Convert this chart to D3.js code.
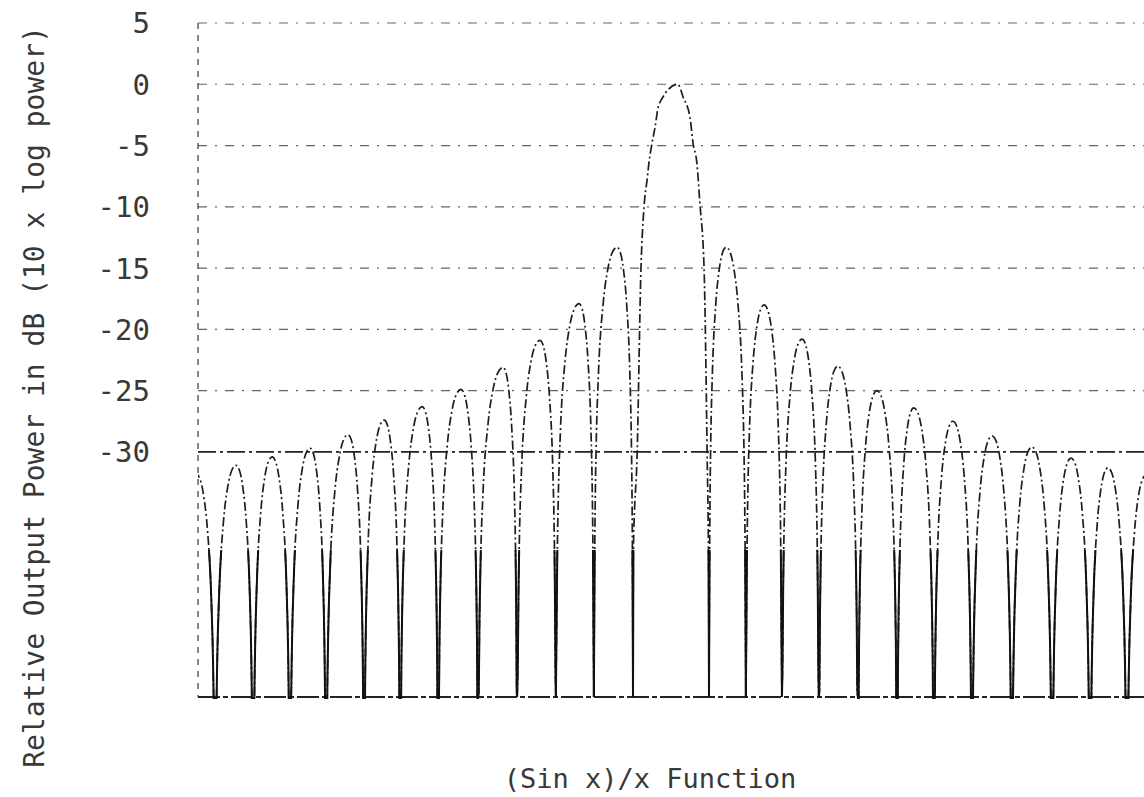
<!DOCTYPE html>
<html>
<head>
<meta charset="utf-8">
<script src="https://cdn.jsdelivr.net/npm/d3@7"></script>
<style>
  body { margin: 0; background: #fff; }
  svg { display: block; }
  text { font-family: "DejaVu Sans Mono", "Liberation Mono", monospace; fill: #383838; }
</style>
</head>
<body>
<div id="chart"></div>
<script>
// dB gridlines / tick labels
const yTicks = [5, 0, -5, -10, -15, -20, -25, -30];
const floorDb = -50;

// main lobe (x in units of the null spacing)
const mainX  = [-1.0, -0.99, -0.89, -0.79, -0.71, -0.63, -0.58, -0.5, -0.42, -0.34, -0.26, 0.18,
                0.32, 0.5, 0.58, 0.68, 0.76, 0.87, 0.95, 0.99, 1.0];
const mainDb = [-50, -38, -30, -15, -10, -7.8, -6.4, -4.8, -3.5, -1.9, -1.3, 0,
                -1.06, -2.7, -4.8, -6.4, -9.7, -15, -30, -40, -50];

// sidelobe nulls (left side then right side)
const nullX = [-13.0, -12.0, -11.0, -10.03, -9.08, -8.08, -7.13, -6.13, -5.08, -4.05, -3.03, -2.03, -1.0,
               1.0, 1.97, 2.92, 3.89, 4.92, 5.95, 6.92, 7.92, 8.97, 10.03, 11.03, 12.0, 13.0];
// sidelobe peaks
const peakX  = [-12.5, -11.45, -10.5, -9.5, -8.5, -7.55, -6.55, -5.53, -4.42, -3.45, -2.42, -1.42,
                1.45, 2.45, 3.45, 4.39, 5.42, 6.39, 7.42, 8.45, 9.5, 10.53, 11.5, 12.5];
const peakDb = [-31.8, -31.1, -30.4, -29.7, -28.6, -27.4, -26.3, -24.9, -23.1, -20.9, -17.9, -13.3,
                -13.3, -18.0, -20.8, -23.0, -25.0, -26.4, -27.5, -28.7, -29.6, -30.5, -31.3, -31.9];

// shape of one traced lobe: share of the null->peak distance, dB below the peak
const profFrac = [0, 0.03, 0.06, 0.1, 0.2, 0.4, 0.6, 0.8, 1];
const profDrop = [null, -26.5, -20.5, -16.1, -10.2, -4.6, -1.8, -0.4, 0];

const yTitle = "Relative Output Power in dB (10 x log power)";
const xTitle = "(Sin x)/x Function";

class SincChart {
  constructor(parent) {
    this.parent = parent;
    this.width = 1144;
    this.height = 797;
    this.margin = { top: 23, right: 0, bottom: 100, left: 198 };
    this.init();
  }

  get innerWidth() { return this.width - (this.margin.left + this.margin.right); }
  get innerHeight() { return this.height - (this.margin.top + this.margin.bottom); }

  lobes() {
    const out = [];
    const lobeCount = peakX.length;
    for (let i = 0; i < lobeCount; i++) {
      // left lobes sit between nullX[i], nullX[i+1]; right ones skip the main lobe gap
      const j = i < lobeCount / 2 ? i : i + 1;
      const x0 = nullX[j], x1 = nullX[j + 1];
      const xp = peakX[i], p = peakDb[i];
      const pts = [];
      profFrac.forEach((f, k) => {
        pts.push([x0 + f * (xp - x0), k === 0 ? floorDb : p + profDrop[k]]);
      });
      for (let k = profFrac.length - 2; k >= 0; k--) {
        pts.push([x1 - profFrac[k] * (x1 - xp), k === 0 ? floorDb : p + profDrop[k]]);
      }
      out.push(pts);
    }
    out.push(mainX.map((x, k) => [x, mainDb[k]]));
    return out;
  }

  init() {
    this.x = d3.scaleLinear().domain([-12.45, 12.45]).range([0, this.innerWidth]);
    this.y = d3.scaleLinear().domain([floorDb, 5]).range([this.innerHeight, 0]);

    this.svg = d3.select(this.parent).append("svg")
      .attr("width", this.width).attr("height", this.height);

    const defs = this.svg.append("defs");
    defs.append("clipPath").attr("id", "clip")
      .append("rect").attr("x", 0).attr("y", -2)
      .attr("width", this.innerWidth).attr("height", this.innerHeight + 4);
    defs.append("clipPath").attr("id", "clipLow")
      .append("rect").attr("x", 0).attr("y", this.y(-38))
      .attr("width", this.innerWidth).attr("height", this.innerHeight - this.y(-38) + 2);

    this.frame = this.svg.append("g")
      .attr("transform", "translate(" + this.margin.left + "," + this.margin.top + ")");
  }

  draw() {
    const x = this.x, y = this.y;

    // gridlines
    this.frame.append("g").attr("class", "grid")
      .selectAll("line").data(yTicks).join("line")
      .attr("x1", 0).attr("x2", this.innerWidth)
      .attr("y1", d => y(d)).attr("y2", d => y(d))
      .attr("stroke", d => d === -30 ? "#222" : "#666")
      .attr("stroke-width", d => d === -30 ? 1.7 : 1.2)
      .attr("stroke-dasharray", d => d === -30 ? "18,4,3,4" : "9,8,2,8");

    // left axis + floor line
    this.frame.append("line")
      .attr("x1", 0).attr("x2", 0).attr("y1", y(5)).attr("y2", y(floorDb))
      .attr("stroke", "#555").attr("stroke-width", 1.4).attr("stroke-dasharray", "6,6");
    this.frame.append("line")
      .attr("x1", 0).attr("x2", this.innerWidth).attr("y1", y(floorDb)).attr("y2", y(floorDb))
      .attr("stroke", "#222").attr("stroke-width", 1.8).attr("stroke-dasharray", "22,3,5,3");

    // tick labels
    this.svg.append("g").attr("class", "ticks")
      .selectAll("text").data(yTicks).join("text")
      .attr("x", 150).attr("y", d => this.margin.top + y(d))
      .attr("dy", "0.36em").attr("text-anchor", "end")
      .style("font-size", "29px")
      .text(d => d < 0 ? "-" + Math.abs(d) : d);

    // the curve
    const line = d3.line().x(d => x(d[0])).y(d => y(d[1])).curve(d3.curveMonotoneX);
    const lobes = this.lobes();
    this.frame.append("g").attr("clip-path", "url(#clip)")
      .selectAll("path").data(lobes).join("path")
      .attr("d", line).attr("fill", "none")
      .attr("stroke", "#1e1e1e").attr("stroke-width", 1.7)
      .attr("stroke-dasharray", "9,3,2,3");
    this.frame.append("g").attr("clip-path", "url(#clipLow)")
      .append("g").attr("clip-path", "url(#clip)")
      .selectAll("path").data(lobes).join("path")
      .attr("d", line).attr("fill", "none")
      .attr("stroke", "#111").attr("stroke-width", 2);

    // titles
    this.svg.append("text")
      .attr("transform", "translate(44,397) rotate(-90)")
      .attr("text-anchor", "middle").style("font-size", "28px")
      .text(yTitle);
    this.svg.append("text")
      .attr("x", 650).attr("y", 788)
      .attr("text-anchor", "middle").style("font-size", "27px")
      .text(xTitle);
  }
}

const chart = new SincChart(document.getElementById("chart"));
chart.draw();
</script>
</body>
</html>
